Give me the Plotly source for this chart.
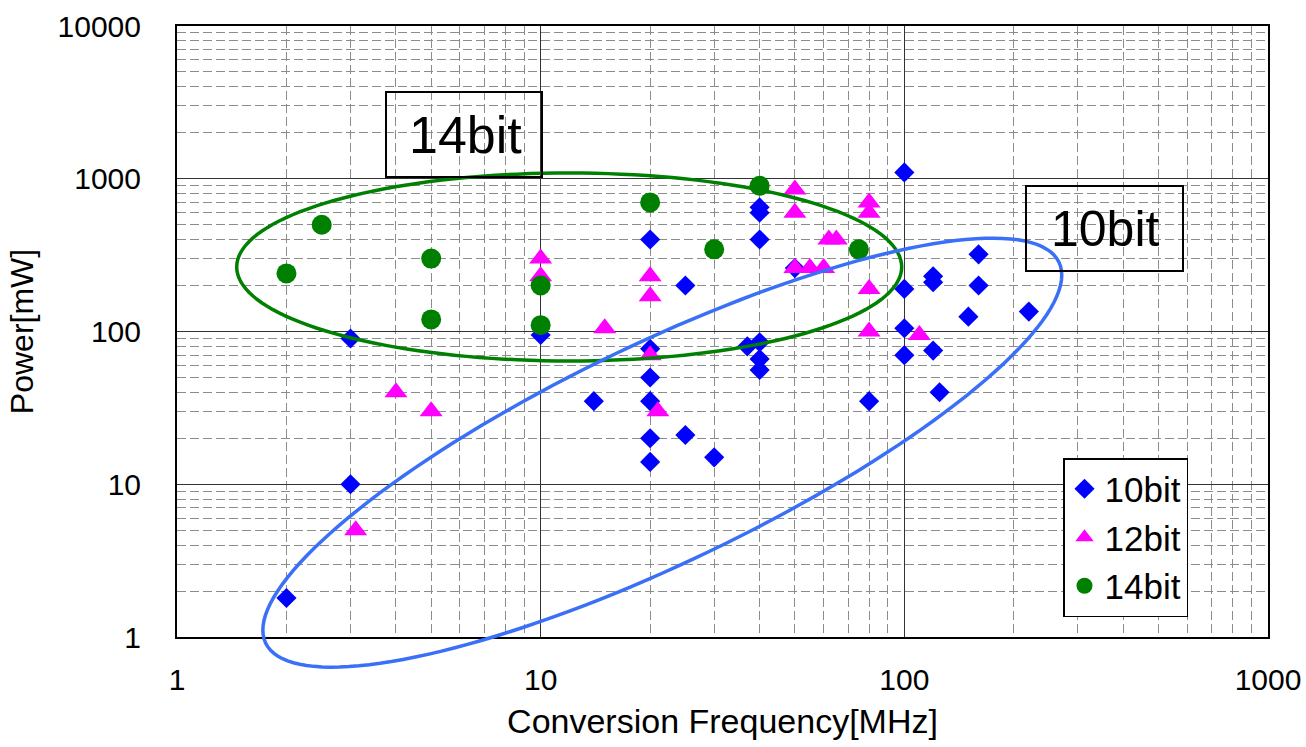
import math
import plotly.graph_objects as go

# ---------------- data ----------------
freq_10bit = [2, 3, 3, 10, 14, 20, 20, 20, 20, 20, 20, 25, 25, 30, 37, 40, 40, 40, 40, 40, 40,
              50, 80, 100, 100, 100, 100, 120, 120, 120, 125, 150, 160, 160, 220]
power_10bit = [1.8, 10, 90, 95, 35, 400, 77, 50, 35, 20, 14, 200, 21, 15, 80, 650, 600, 400, 85, 66, 56,
               260, 35, 1100, 190, 105, 70, 230, 210, 75, 40, 125, 320, 200, 135]

freq_12bit = [3.1, 4, 5, 10, 10, 15, 20, 20, 20, 21, 50, 50, 50, 55, 60, 62, 65, 80, 80, 80, 80, 110]
power_12bit = [5, 40, 30, 300, 230, 105, 230, 170, 70, 30, 850, 600, 260, 260, 260, 400, 400, 700, 600, 190, 100, 95]

freq_14bit = [2, 2.5, 5, 5, 10, 10, 20, 30, 40, 75]
power_14bit = [240, 500, 300, 120, 200, 110, 700, 345, 900, 345]

series_names = ["10bit", "12bit", "14bit"]
x_ticks = [1, 10, 100, 1000]
y_ticks = [1, 10, 100, 1000, 10000]

# ---------------- layout constants ----------------
W, H = 1306, 747
ML, MR, MT, MB = 177, 38, 26, 110
PW, PH = W - ML - MR, H - MT - MB
XR = (0, 3)   # log10 range
YR = (0, 4)
FONT = "Liberation Sans, Arial, sans-serif"


def to_paper(xv, yv):
    return ((math.log10(xv) - XR[0]) / (XR[1] - XR[0]),
            (math.log10(yv) - YR[0]) / (YR[1] - YR[0]))


def ellipse_path(cx, cy, a_px, b_px, theta_deg, n=160):
    pcx, pcy = to_paper(cx, cy)
    th = math.radians(theta_deg)
    pts = []
    for i in range(n):
        t = 2 * math.pi * i / n
        dx = a_px * math.cos(t) * math.cos(th) - b_px * math.sin(t) * math.sin(th)
        dy = a_px * math.cos(t) * math.sin(th) + b_px * math.sin(t) * math.cos(th)
        pts.append((pcx + dx / PW, pcy + dy / PH))
    return "M " + " L ".join(f"{x:.5f},{y:.5f}" for x, y in pts) + " Z"


fig = go.Figure()
fig.add_trace(go.Scatter(x=freq_10bit, y=power_10bit, mode="markers", name=series_names[0],
                         marker=dict(symbol="diamond", size=15.5, color="#0000FF"), cliponaxis=False))
fig.add_trace(go.Scatter(x=freq_12bit, y=power_12bit, mode="markers", name=series_names[1],
                         marker=dict(symbol="triangle-up", size=20, color="#FF00FF"), cliponaxis=False))
fig.add_trace(go.Scatter(x=freq_14bit, y=power_14bit, mode="markers", name=series_names[2],
                         marker=dict(symbol="circle", size=20, color="#008000"), cliponaxis=False))

minor_vals_x = [m * 10 ** k for k in range(0, 3) for m in range(2, 10)]
minor_vals_y = [m * 10 ** k for k in range(0, 4) for m in range(2, 10)]

axis_common = dict(
    type="log", showline=True, mirror=True, linecolor="black", linewidth=2,
    showgrid=True, gridcolor="#333333", gridwidth=1, ticks="", automargin=False,
    tickfont=dict(family=FONT, size=30, color="black"),
)

fig.update_xaxes(range=list(XR), tickvals=x_ticks, ticktext=[str(v) for v in x_ticks],
                 ticklabelstandoff=15,
                 minor=dict(tickmode="array", tickvals=minor_vals_x, showgrid=True,
                            gridcolor="#8c8c8c", griddash="9px,4px", gridwidth=1),
                 title=dict(text="Conversion Frequency[MHz]", font=dict(family=FONT, size=34, color="black"),
                            standoff=14),
                 **axis_common)
fig.update_yaxes(range=list(YR), tickvals=y_ticks, ticktext=[str(v) for v in y_ticks],
                 ticklabelstandoff=28,
                 minor=dict(tickmode="array", tickvals=minor_vals_y, showgrid=True,
                            gridcolor="#8c8c8c", griddash="9px,4px", gridwidth=1),
                 title=dict(text="Power[mW]", font=dict(family=FONT, size=32, color="black"),
                            standoff=14),
                 **axis_common)

# ellipses (annotation shapes)
shapes = [
    dict(type="path", xref="paper", yref="paper",
         path=ellipse_path(11.98, 264.5, 332.5, 94, 0),
         line=dict(color="#008000", width=3.5), layer="above"),
    dict(type="path", xref="paper", yref="paper",
         path=ellipse_path(21.6, 16.1, 440, 109.4, 25.65),
         line=dict(color="#3A6FF7", width=3.5), layer="above"),
]


def px_box(x0, y0, x1, y1):
    return dict(type="rect", xref="paper", yref="paper",
                x0=(x0 - ML) / PW, x1=(x1 - ML) / PW,
                y0=(MT + PH - y1) / PH, y1=(MT + PH - y0) / PH,
                line=dict(color="black", width=2), fillcolor="rgba(0,0,0,0)", layer="above")


shapes.append(px_box(386, 92, 542, 177))
shapes.append(px_box(1026, 186, 1183, 271))

annotations = [
    dict(text="14bit", xref="paper", yref="paper", x=(465 - ML) / PW, y=(MT + PH - 135) / PH,
         showarrow=False, xanchor="center", yanchor="middle",
         font=dict(family=FONT, size=52, color="black")),
    dict(text="10bit", xref="paper", yref="paper", x=(1105 - ML) / PW, y=(MT + PH - 229) / PH,
         showarrow=False, xanchor="center", yanchor="middle",
         font=dict(family=FONT, size=50, color="black")),
]

fig.update_layout(
    width=W, height=H,
    margin=dict(l=ML, r=MR, t=MT, b=MB, autoexpand=False),
    paper_bgcolor="white", plot_bgcolor="white",
    font=dict(family=FONT, color="black"),
    shapes=shapes, annotations=annotations,
    legend=dict(x=(1063 - ML) / PW, y=(MT + PH - 458) / PH, xanchor="left", yanchor="top",
                bgcolor="white", bordercolor="black", borderwidth=1.5,
                font=dict(family=FONT, size=35, color="black"),
                tracegroupgap=0, itemwidth=30),
    showlegend=True,
)

fig.write_html("out.html")
